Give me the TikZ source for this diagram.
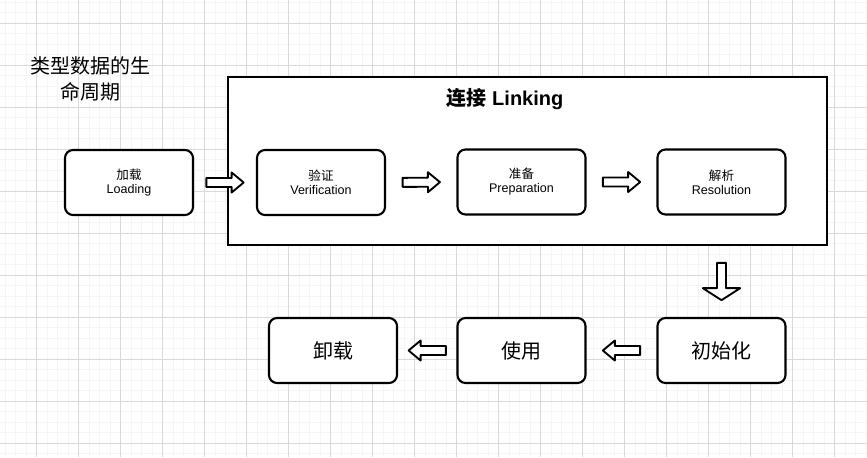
\documentclass[tikz,border=0pt]{standalone}
\usepackage{fontspec}
\setmainfont{Liberation Sans}
\newfontfamily\cjk{Noto Sans CJK SC}
\usetikzlibrary{calc}

% block arrow between two anchors, optional half width of the head
\newcommand{\blockarrow}[3][7.5pt]{%
  \coordinate (bm) at ($(#2)!0.5!(#3)$);
  \coordinate (bs) at ($(bm)!14pt!(#2)$);
  \coordinate (be) at ($(bm)!14pt!(#3)$);
  \coordinate (bq) at ($(be)!9pt!(bs)$);
  \draw[blockline] ($(bs)!3.4pt!90:(be)$) -- ($(bq)!3.4pt!90:(be)$) -- ($(bq)!#1!90:(be)$) -- (be)
    -- ($(bq)!#1!-90:(be)$) -- ($(bq)!3.4pt!-90:(be)$) -- ($(bs)!3.4pt!-90:(be)$) -- cycle;
}

\begin{document}
\begin{tikzpicture}[x=0.75pt, y=-0.75pt,
  minorgrid/.style={draw=black!4, line width=0.6pt},
  majorgrid/.style={draw=black!15, line width=0.6pt},
  stagebox/.style={draw, line width=1.6pt, rounded corners=6pt, fill=white,
    minimum width=96pt, minimum height=48.75pt, inner sep=0pt, align=center,
    font=\fontsize{9.4}{10.5}\selectfont},
  bigbox/.style={stagebox, font=\cjk\fontsize{15}{18}\selectfont},
  blockline/.style={line width=1.4pt, fill=white, line join=round}]

  \useasboundingbox (0,0) rectangle (867,457);
  \fill[white] (0,0) rectangle (867,457);

  % grid
  \foreach \i in {0,...,82}
    \draw[minorgrid] ({5.3+10.5*\i},0) -- ({5.3+10.5*\i},457);
  \foreach \j in {0,...,43}
    \draw[minorgrid] (0,{2.3+10.5*\j}) -- (867,{2.3+10.5*\j});
  \foreach \i in {0,...,19}
    \draw[majorgrid] ({36.3+42*\i},0) -- ({36.3+42*\i},457);
  \foreach \j in {0,...,10}
    \draw[majorgrid] (0,{23.3+42*\j}) -- (867,{23.3+42*\j});

  \node[align=center, font=\cjk\fontsize{15}{20}\selectfont] (title) at (90,79) {类型数据的生\\命周期};

  % linking frame
  \node[draw, line width=1.6pt, fill=white, minimum width=449.25pt, minimum height=126pt, inner sep=0pt] (linking) at (527.5,161) {};
  \node[font=\fontsize{15}{18}\selectfont\bfseries] (linkingtitle) at (505,99) {{\cjk 连接} Linking};

  \node[stagebox] (load) at (129,182.5) {{\cjk 加载}\\Loading};
  \node[stagebox] (verif) at (321,182.5) {{\cjk 验证}\\Verification};
  \node[stagebox] (prep) at (521.5,182) {{\cjk 准备}\\Preparation};
  \node[stagebox] (res) at (721.5,182) {{\cjk 解析}\\Resolution};

  \node[bigbox] (unload) at (333,350.5) {卸载};
  \node[bigbox] (use) at (521.5,350.5) {使用};
  \node[bigbox] (init) at (721.5,350.5) {初始化};

  \coordinate (framefoot) at (init.north |- linking.south);

  \blockarrow{load.east}{verif.west}
  \blockarrow{verif.east}{prep.west}
  \blockarrow{prep.east}{res.west}
  \blockarrow[14pt]{framefoot}{init.north}
  \blockarrow{init.west}{use.east}
  \blockarrow{use.west}{unload.east}

\end{tikzpicture}
\end{document}
